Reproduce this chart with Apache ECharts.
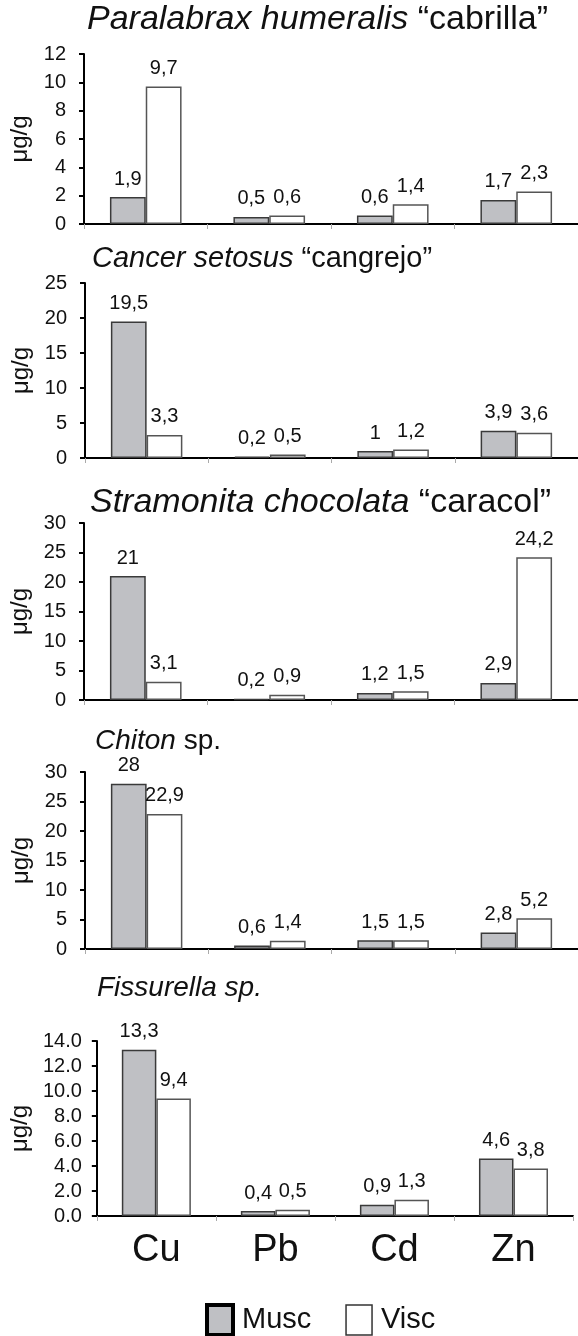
<!DOCTYPE html>
<html><head><meta charset="utf-8">
<script src="https://cdn.jsdelivr.net/npm/echarts@6/dist/echarts.min.js"></script>
<style>html,body{margin:0;padding:0;background:#fff}#c{width:578px;height:1336px}</style>
</head><body><div id="c"></div>
<script>
var categories = ['Cu', 'Pb', 'Cd', 'Zn'];
var seriesNames = ['Musc', 'Visc'];

var cabrillaMusc = [1.9, 0.5, 0.6, 1.7];
var cabrillaVisc = [9.7, 0.6, 1.4, 2.3];
var cangrejoMusc = [19.5, 0.2, 1, 3.9];
var cangrejoVisc = [3.3, 0.5, 1.2, 3.6];
var caracolMusc = [21, 0.2, 1.2, 2.9];
var caracolVisc = [3.1, 0.9, 1.5, 24.2];
var chitonMusc = [28, 0.6, 1.5, 2.8];
var chitonVisc = [22.9, 1.4, 1.5, 5.2];
var fissurellaMusc = [13.3, 0.4, 0.9, 4.6];
var fissurellaVisc = [9.4, 0.5, 1.3, 3.8];

var titleItalic = ['Paralabrax humeralis', 'Cancer setosus', 'Stramonita chocolata', 'Chiton', 'Fissurella sp.'];
var titleNormal = ['“cabrilla”', '“cangrejo”', '“caracol”', 'sp.', ''];
var yMax = [12, 25, 30, 30, 14];
var yInterval = [2, 5, 5, 5, 2];
var yDecimals = [0, 0, 0, 0, 1];
var yName = 'μg/g';

var panels = [
  [cabrillaMusc, cabrillaVisc],
  [cangrejoMusc, cangrejoVisc],
  [caracolMusc, caracolVisc],
  [chitonMusc, chitonVisc],
  [fissurellaMusc, fissurellaVisc]
];

// layout (pixels)
var FONT = '"Liberation Sans", Arial, sans-serif';
var gridTop = [54, 283, 523, 772, 1041];
var gridH = [170, 175, 177, 177, 175];
var gridLeft = [84, 85, 84, 85, 91];
var gridRight = [0, 0, 0, 0, 5];
var titleLeft = [87, 92, 90, 95, 97];
var titleY = [20, 259, 503, 741, 988];
var titleSize = [34, 29, 34, 28, 28];
var labelMargin = [18, 18, 18, 18, 15];

var chart = echarts.init(document.getElementById('c'), null, {renderer: 'canvas'});

var titles = [], grids = [], xAxes = [], yAxes = [], series = [];
for (var i = 0; i < 5; i++) {
  var txt = '{i|' + titleItalic[i] + '}' + (titleNormal[i] ? '{n| ' + titleNormal[i] + '}' : '');
  titles.push({
    text: txt, left: titleLeft[i], top: titleY[i] - titleSize[i] / 2,
    padding: 0,
    textStyle: {
      fontFamily: FONT, fontSize: titleSize[i], fontWeight: 'normal', color: '#111',
      rich: {
        i: {fontFamily: FONT, fontSize: titleSize[i], lineHeight: titleSize[i], fontStyle: 'italic', color: '#111'},
        n: {fontFamily: FONT, fontSize: titleSize[i], lineHeight: titleSize[i], color: '#111'}
      }
    }
  });
  grids.push({left: gridLeft[i], right: gridRight[i], top: gridTop[i], height: gridH[i], containLabel: false});
  xAxes.push({
    type: 'category', gridIndex: i, data: categories,
    axisLine: {lineStyle: {color: '#000', width: 2}},
    axisTick: {show: true, length: 5, lineStyle: {color: '#aaa', width: 1}},
    axisLabel: {show: i === 4, fontFamily: FONT, fontSize: 38, color: '#111', margin: 16}
  });
  (function (dec) {
    yAxes.push({
      type: 'value', gridIndex: i, min: 0, max: yMax[i], interval: yInterval[i],
      name: yName, nameLocation: 'middle', nameGap: gridLeft[i] - 35, nameRotate: 90,
      nameTextStyle: {fontFamily: FONT, fontSize: 24, color: '#111'},
      splitLine: {show: false},
      axisLine: {show: true, lineStyle: {color: '#000', width: 2}},
      axisTick: {show: true, length: 5, lineStyle: {color: '#000', width: 2}},
      axisLabel: {fontFamily: FONT, fontSize: 20, color: '#111', margin: labelMargin[i],
        formatter: function (v) { return v.toFixed(dec); }}
    });
  })(yDecimals[i]);
  for (var s = 0; s < 2; s++) {
    series.push({
      type: 'bar', name: seriesNames[s], xAxisIndex: i, yAxisIndex: i,
      data: panels[i][s],
      barGap: '0%', barCategoryGap: '42%',
      itemStyle: s === 0 ? {color: '#bfc0c4', borderColor: '#3a3a3a', borderWidth: 1.5}
                         : {color: '#ffffff', borderColor: '#555', borderWidth: 1.5},
      label: {show: true, position: 'top', distance: 8, fontFamily: FONT, fontSize: 20, color: '#111',
        formatter: function (p) { return String(p.value).replace('.', ','); }},
      animation: false
    });
  }
}

chart.setOption({
  animation: false,
  backgroundColor: '#fff',
  title: titles,
  grid: grids,
  xAxis: xAxes,
  yAxis: yAxes,
  legend: {
    left: 200, top: 1298, itemWidth: 26, itemHeight: 30, itemGap: 34,
    icon: 'rect',
    textStyle: {fontFamily: FONT, fontSize: 29, color: '#111', padding: [0, 0, 0, 4]},
    data: [
      {name: 'Musc', itemStyle: {color: '#bfc0c4', borderColor: '#000', borderWidth: 4}},
      {name: 'Visc', itemStyle: {color: '#fff', borderColor: '#333', borderWidth: 1.5}}
    ]
  },
  series: series
});
</script></body></html>
